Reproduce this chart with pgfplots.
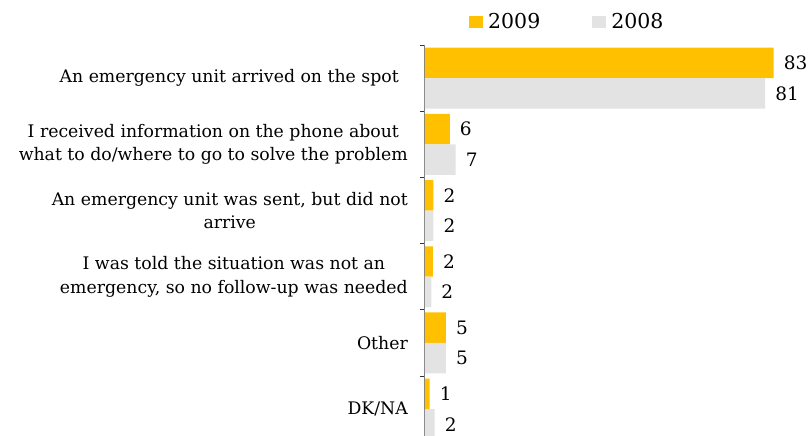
\documentclass[border=0pt]{standalone}
\usepackage{fontspec}
\setmainfont{DejaVu Serif}
\usepackage{pgfplots}
\pgfplotsset{compat=1.18}
\definecolor{cOrange}{HTML}{FFC000}
\definecolor{cGray}{HTML}{E3E3E3}
\definecolor{cAxis}{HTML}{808080}
\begin{document}
\begin{tikzpicture}
\begin{axis}[
  scale only axis,
  width=386.4pt, height=391pt,
  xbar,
  xmin=0, xmax=92,
  y dir=reverse,
  ymin=-0.5, ymax=5.406,
  hide x axis,
  axis y line*=left,
  y axis line style={draw=cAxis, line width=1pt},
  ytick={0,1,2,3,4,5},
  yticklabels={{An emergency unit arrived on the spot\hspace*{9pt}},
               {I received information on the phone about\\what to do/where to go to solve the problem},
               {An emergency unit was sent, but did not\\arrive},
               {I was told the situation was not an\\emergency, so no follow-up was needed},
               {Other},
               {DK/NA}},
  minor ytick={-0.5,0.5,1.5,2.5,3.5,4.5},
  tick align=outside,
  major tick length=0pt,
  minor tick length=5pt,
  minor tick style={draw=black!80, line width=0.8pt},
  yticklabel style={align=center, anchor=east, inner sep=0pt, xshift=-17pt,
                    font=\fontsize{17.3}{23.5}\selectfont},
  bar width=0.46,
  nodes near coords,
  nodes near coords style={anchor=west, inner sep=0pt, xshift=10pt, text=black,
                           font=\fontsize{18.5}{20}\selectfont,
                           /pgf/number format/fixed,
                           /pgf/number format/precision=0,
                           /pgf/number format/assume math mode=true},
  legend columns=2,
  legend style={draw=none, fill=none, inner sep=0pt,
                at={(axis description cs:0.1138,1.0588)}, anchor=west,
                font=\fontsize{20.5}{22}\selectfont,
                /tikz/every even column/.append style={column sep=50pt}},
  legend image code/.code={\fill[#1] (0pt,-6pt) rectangle (14pt,6pt); \path (17pt,0pt);},
]
\addplot[fill=cOrange, draw=none, bar shift=-0.23] coordinates {
  (83,0) (5.9,1) (2.0,2) (1.9,3) (5.0,4) (1.1,5)};
\addlegendentry{2009}
\addplot[fill=cGray, draw=none, bar shift=0.23] coordinates {
  (81,0) (7.3,1) (2.0,2) (1.5,3) (5.0,4) (2.3,5)};
\addlegendentry{2008}
\coordinate (TL) at (axis description cs:0,1);
\end{axis}
\pgfresetboundingbox
\path[use as bounding box] ([shift={(-425pt,45pt)}]TL) rectangle ([shift={(386pt,-391pt)}]TL);
\end{tikzpicture}
\end{document}
